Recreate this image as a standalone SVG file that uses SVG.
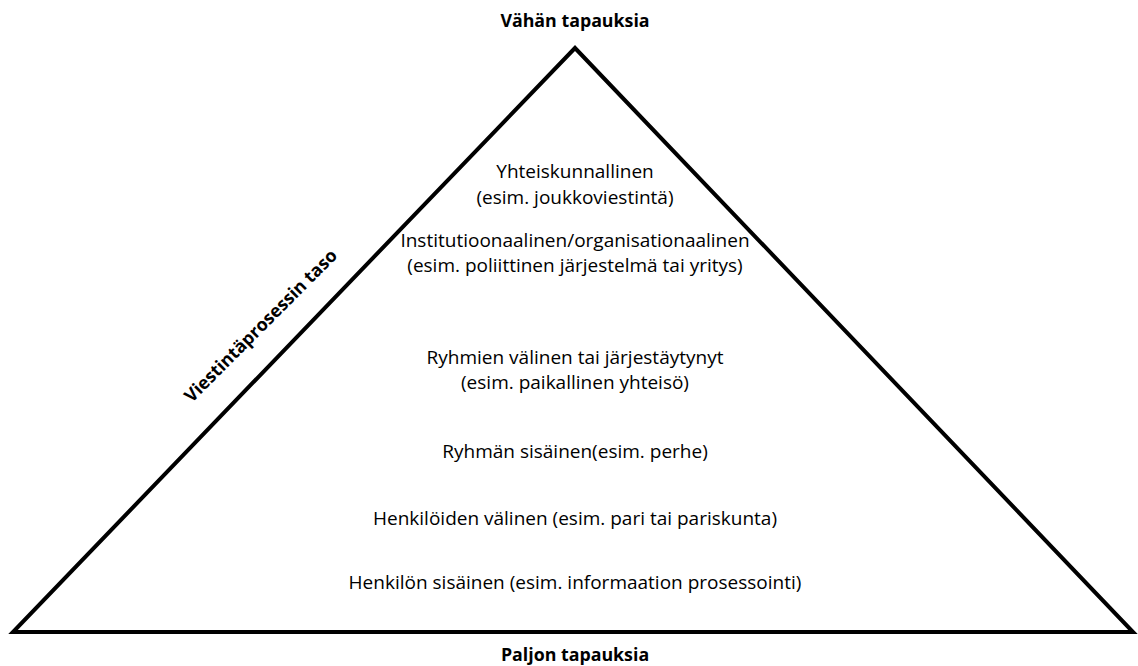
<svg xmlns="http://www.w3.org/2000/svg" width="1138" height="666" viewBox="0 0 1138 666">
<style>
.t{font-family:"Open Sans","Liberation Sans",sans-serif;font-size:19px;fill:#000;text-anchor:middle}
.b{font-family:"Open Sans","Liberation Sans",sans-serif;font-size:17.8px;font-weight:bold;fill:#000;text-anchor:middle}
.edge{fill:none;stroke:#000;stroke-width:4;stroke-linejoin:miter}
</style>
<rect width="1138" height="666" fill="#fff"/>
<g id="connectors">
<polygon class="edge" points="575,48 13,632 1133,632"/>
</g>
<g id="top"><text class="b" x="575" y="27">Vähän tapauksia</text></g>
<g id="bottom"><text class="b" x="575" y="661">Paljon tapauksia</text></g>
<g id="axis"><text class="b" transform="translate(265,330) rotate(-45)" x="0" y="0">Viestintäprosessin taso</text></g>
<g id="level6"><text class="t" x="575" y="178">Yhteiskunnallinen</text><text class="t" x="575" y="204">(esim. joukkoviestintä)</text></g>
<g id="level5"><text class="t" x="575" y="247">Institutioonaalinen/organisationaalinen</text><text class="t" x="575" y="272">(esim. poliittinen järjestelmä tai yritys)</text></g>
<g id="level4"><text class="t" x="575" y="364">Ryhmien välinen tai järjestäytynyt</text><text class="t" x="575" y="389">(esim. paikallinen yhteisö)</text></g>
<g id="level3"><text class="t" x="575" y="458">Ryhmän sisäinen(esim. perhe)</text></g>
<g id="level2"><text class="t" x="575" y="525">Henkilöiden välinen (esim. pari tai pariskunta)</text></g>
<g id="level1"><text class="t" x="575" y="589">Henkilön sisäinen (esim. informaation prosessointi)</text></g>
</svg>
